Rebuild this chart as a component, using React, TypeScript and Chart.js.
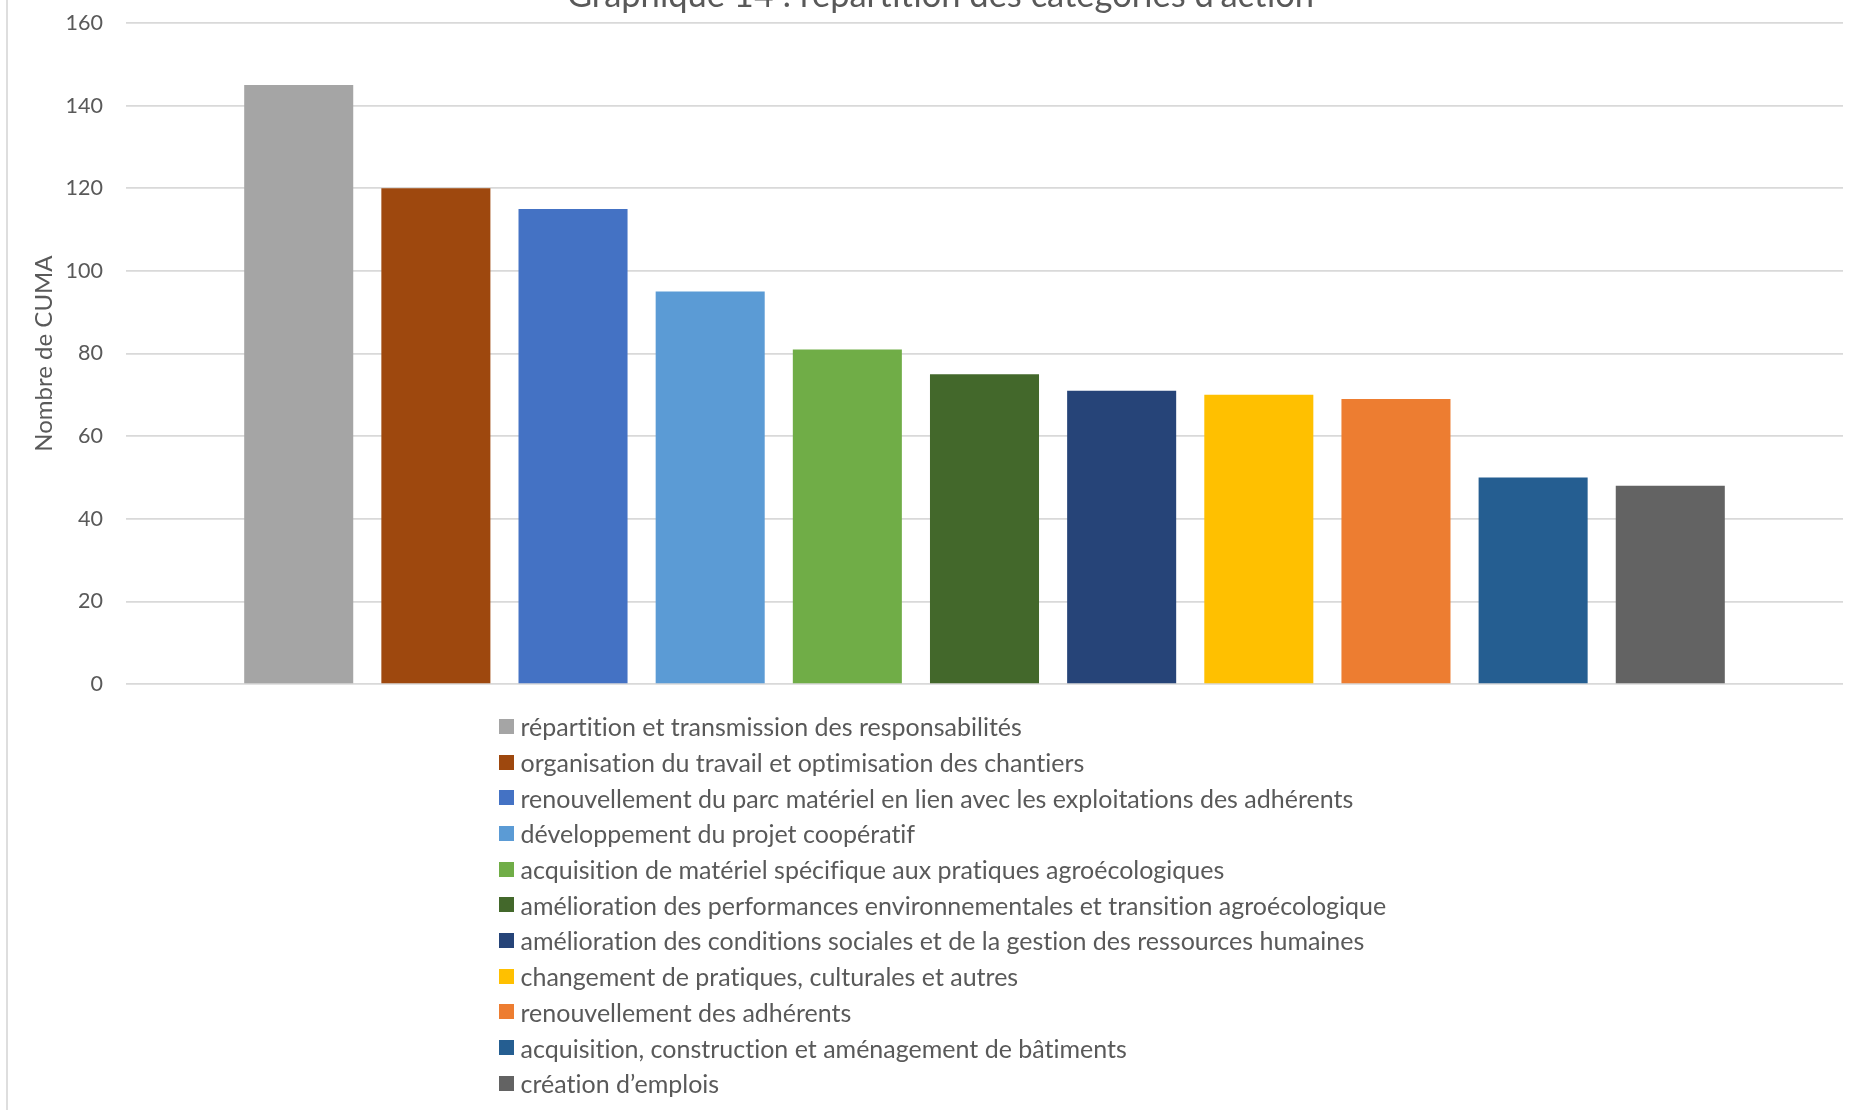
import { useEffect, useRef } from "react";
import { Chart, registerables } from "chart.js";

Chart.register(...registerables);

// Chart texts
const chartTitle = "Graphique 14 : répartition des catégories d’action";
const yAxisTitle = "Nombre de CUMA";

// One bar per action category
const categories = [
  "répartition et transmission des responsabilités",
  "organisation du travail et optimisation des chantiers",
  "renouvellement du parc matériel en lien avec les exploitations des adhérents",
  "développement du projet coopératif",
  "acquisition de matériel spécifique aux pratiques agroécologiques",
  "amélioration des performances environnementales et transition agroécologique",
  "amélioration des conditions sociales et de la gestion des ressources humaines",
  "changement de pratiques, culturales et autres",
  "renouvellement des adhérents",
  "acquisition, construction et aménagement de bâtiments",
  "création d’emplois",
];

const cumaCounts = [145, 120, 115, 95, 81, 75, 71, 70, 69, 50, 48];

const barColors = [
  "#A5A5A5",
  "#9E480E",
  "#4472C4",
  "#5B9BD5",
  "#70AD47",
  "#43682B",
  "#264478",
  "#FFC000",
  "#ED7D31",
  "#255E91",
  "#636363",
];

// Value axis
const yMin = 0;
const yMax = 160;
const yStep = 20;

const FONT = "Lato, 'Open Sans', sans-serif";
const TEXT_COLOR = "#595959";
const GRID_COLOR = "#d9d9d9";

export default function App() {
  const canvasRef = useRef<HTMLCanvasElement>(null);

  useEffect(() => {
    const canvas = canvasRef.current;
    if (!canvas) return;
    const chart = new Chart(canvas, {
      type: "bar",
      data: {
        labels: [""],
        datasets: categories.map((label, i) => ({
          label,
          data: [cumaCounts[i]],
          backgroundColor: barColors[i],
          borderWidth: 0,
        })),
      },
      options: {
        responsive: false,
        animation: false,
        devicePixelRatio: 1,
        layout: { padding: { left: 38, right: 21, top: 0, bottom: 0 } },
        datasets: {
          bar: { categoryPercentage: 0.8787, barPercentage: 0.795 },
        },
        plugins: {
          legend: { display: false },
          tooltip: { enabled: false },
          title: {
            display: true,
            text: chartTitle,
            color: TEXT_COLOR,
            font: { family: FONT, size: 34.5, weight: "normal", lineHeight: 1.2 },
            padding: { top: 0, bottom: 6.6 },
          },
        },
        scales: {
          x: { display: false },
          y: {
            min: yMin,
            max: yMax,
            afterFit: (scale: any) => {
              scale.width = 88;
            },
            ticks: {
              stepSize: yStep,
              padding: 23,
              color: TEXT_COLOR,
              font: { family: FONT, size: 21.5 },
            },
            grid: {
              color: GRID_COLOR,
              lineWidth: 1.75,
              drawTicks: false,
            },
            border: { display: false },
            title: {
              display: true,
              text: yAxisTitle,
              color: TEXT_COLOR,
              font: { family: FONT, size: 24, lineHeight: 0.5 },
              padding: 0,
            },
          },
        },
      },
    });
    return () => chart.destroy();
  }, []);

  return (
    <div
      style={{
        position: "fixed",
        left: 0,
        top: 0,
        width: 1864,
        height: 1110,
        overflow: "hidden",
        background: "#ffffff",
      }}
    >
      <div
        style={{
          position: "absolute",
          left: 6,
          top: 0,
          width: 2,
          height: 1110,
          background: "#dedede",
        }}
      />
      <canvas
        ref={canvasRef}
        width={1864}
        height={745}
        style={{ position: "absolute", left: 0, top: -25.5, width: 1864, height: 745 }}
      />
      <div style={{ position: "absolute", left: 499, top: 708.5 }}>
        {categories.map((label, i) => (
          <div
            key={label}
            style={{ display: "flex", alignItems: "center", height: 35.7 }}
          >
            <span
              style={{
                flex: "none",
                width: 15,
                height: 15,
                marginRight: 6.5,
                background: barColors[i],
              }}
            />
            <span
              style={{
                font: `25px ${FONT}`,
                fontVariantLigatures: "none",
                color: TEXT_COLOR,
                whiteSpace: "nowrap",
              }}
            >
              {label}
            </span>
          </div>
        ))}
      </div>
    </div>
  );
}
